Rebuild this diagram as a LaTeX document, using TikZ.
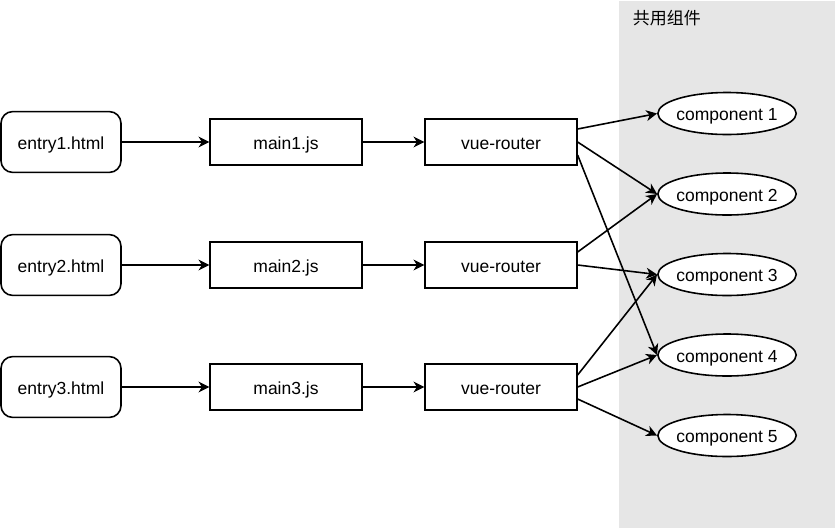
\documentclass[tikz,border=0pt]{standalone}
\usepackage{fontspec}
\setmainfont{Liberation Sans}
\newfontfamily\cjk{Noto Sans CJK SC}
\usetikzlibrary{positioning, arrows.meta, shapes.geometric}
\definecolor{sharedgray}{HTML}{E6E6E6}

\begin{document}
\begin{tikzpicture}[x=0.6pt,y=-0.6pt,->,>={Stealth[length=6.5pt,width=6.5pt,inset=2pt]},line width=0.95pt,
    font=\fontsize{10.5}{12}\selectfont,
    entry/.style={draw,rounded corners=7pt,minimum width=72pt,minimum height=36.5pt,inner sep=0pt,text height=8.4pt,text depth=0pt},
    jsbox/.style={draw,minimum width=91pt,minimum height=27.5pt,inner sep=0pt,text height=8.4pt,text depth=0pt},
    comp/.style={draw,ellipse,fill=white,minimum width=83pt,minimum height=25.2pt,inner xsep=-1.7pt,inner ysep=0pt,text height=8.4pt,text depth=0pt}]

    \useasboundingbox (0,0) rectangle (836,529);

    % shared area
    \fill[-,sharedgray] (619,1) rectangle (835,528);
    \node[anchor=west,inner sep=0pt,font=\cjk\fontsize{10.2}{12}\selectfont] (shared) at (632,18) {共用组件};

    \node[entry] (e1) at (61,142) {entry1.html};
    \node[entry] (e2) at (61,265) {entry2.html};
    \node[entry] (e3) at (61,387) {entry3.html};

    \node[jsbox] (m1) at (286,142) {main1.js};
    \node[jsbox] (m2) at (286,265) {main2.js};
    \node[jsbox] (m3) at (286,387) {main3.js};

    \node[jsbox] (r1) at (501,142) {vue-router};
    \node[jsbox] (r2) at (501,265) {vue-router};
    \node[jsbox] (r3) at (501,387) {vue-router};

    \node[comp] (c1) at (727,113.5) {component 1};
    \node[comp] (c2) at (727,194) {component 2};
    \node[comp] (c3) at (727,274.5) {component 3};
    \node[comp] (c4) at (727,355) {component 4};
    \node[comp] (c5) at (727,435.5) {component 5};

    \draw (e1) to (m1);
    \draw (e2) to (m2);
    \draw (e3) to (m3);
    \draw (m1) to (r1);
    \draw (m2) to (r2);
    \draw (m3) to (r3);

    \draw ([yshift=7.8pt]r1.east) to (c1.west);
    \draw (r1.east) to (c2.west);
    \draw ([yshift=-7.8pt]r1.east) to (c4.west);

    \draw ([yshift=7.8pt]r2.east) to (c2.west);
    \draw (r2.east) to (c3.west);

    \draw ([yshift=7.2pt]r3.east) to (c3.west);
    \draw (r3.east) to (c4.west);
    \draw ([yshift=-7.2pt]r3.east) to (c5.west);

\end{tikzpicture}
\end{document}
